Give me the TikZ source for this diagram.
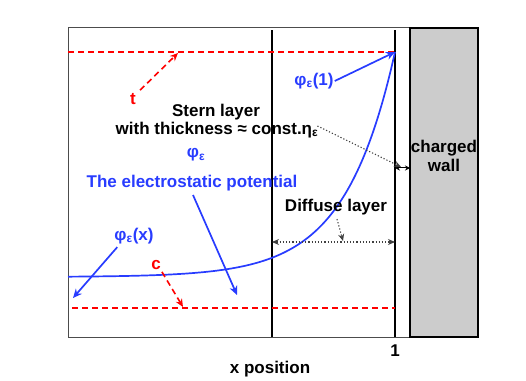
\documentclass[tikz,border=0pt]{standalone}
\usepackage{fontspec}
\setmainfont{Liberation Sans}
\usetikzlibrary{arrows.meta}

\definecolor{potblue}{RGB}{40,60,255}
\definecolor{conred}{RGB}{255,0,0}
\definecolor{wallgray}{RGB}{204,204,204}

\tikzset{
  lbl/.style={font=\fontsize{17}{19}\selectfont\bfseries, inner sep=1pt},
  bluelbl/.style={lbl, text=potblue},
  redlbl/.style={lbl, text=conred},
  reddash/.style={conred, dash pattern=on 6pt off 4pt, line width=1.6pt},
  bluearrow/.style={-{Stealth[length=9pt,width=8pt]}, potblue, line width=1.7pt},
  redarrow/.style={-{Stealth[length=8pt,width=7pt]}, reddash},
  dotarrow/.style={-{Stealth[length=7pt,width=6pt]}, black!75, dash pattern=on 1.2pt off 2pt, line width=1.1pt},
}

\begin{document}
\begin{tikzpicture}[x=1pt, y=1pt]
  \useasboundingbox (0,0) rectangle (526,380);

  % -- Axis frame --
  \draw[gray!60!black, line width=1pt] (68,43) rectangle (410,352);

  % -- Charged wall --
  \draw[fill=wallgray, line width=1.8pt] (410,43) rectangle (478,352);
  \node[lbl, align=center] (wall) at (444,224) {charged\\wall};

  % -- Layer boundaries --
  \draw[line width=1.8pt] (272,43) -- (272,350);
  \draw[line width=1.8pt] (395,43) -- (395,350);

  % -- Dashed levels --
  \draw[reddash] (68,328) -- (395,328);
  \draw[reddash] (72,72) -- (395,72);

  % -- Potential curve --
  \draw[potblue, line width=1.7pt, smooth, domain=68:395, samples=80]
    plot (\x, {103+225*exp((\x-395)/50)});

  % labels for the levels
  \node[redlbl] (t) at (133,281) {t};
  \coordinate (ttip) at (178,327);
  \draw[redarrow] (t.north east) ++(3,2) -- (ttip);
  \node[redlbl] (c) at (156,115) {c};
  \coordinate (ctip) at (183,73);
  \draw[redarrow] (c.south east) ++(0,-1) -- (ctip);

  % labels for the potential
  \node[bluelbl] (phione) at (314,299) {φ\textsubscript{ε}(1)};
  \coordinate (onetip) at (395,328);
  \draw[bluearrow] (phione.east) -- (onetip);
  \node[bluelbl] (phi) at (196,225) {φ\textsubscript{ε}};
  \node[bluelbl] (potential) at (192,197) {The electrostatic potential};
  \coordinate (pottip) at (237,85);
  \draw[bluearrow] (193,185) -- (pottip);
  \node[bluelbl] (phix) at (134,144) {φ\textsubscript{ε}(x)};
  \coordinate (xtip) at (73,82);
  \draw[bluearrow] (phix.south west) ++(4,-2) -- (xtip);

  % -- Stern layer --
  \node[lbl] (stern) at (216,268) {Stern layer};
  \node[lbl] (thick) at (217,250) {with thickness ≈ const.η\textsubscript{ε}};
  \coordinate (sternl) at (395,212);
  \coordinate (sternr) at (410,212);
  \draw[{Stealth[length=5pt,width=5pt]}-{Stealth[length=5pt,width=5pt]}, line width=1pt] (sternl) -- (sternr);
  \draw[dotarrow] (thick.east) ++(-2,4) -- (401,213);

  % -- Diffuse layer --
  \node[lbl] (diffuse) at (336,173) {Diffuse layer};
  \coordinate (diffl) at (272,138);
  \coordinate (diffr) at (395,138);
  \draw[dotarrow, {Stealth[length=7pt,width=6pt]}-{Stealth[length=7pt,width=6pt]}] (diffl) -- (diffr);
  \draw[dotarrow] (diffuse.south) ++(1,-3) -- (343,139);

  % -- Axis labels --
  \node[lbl] (one) at (395,29) {1};
  \node[lbl] (xpos) at (270,11) {x position};
\end{tikzpicture}
\end{document}
